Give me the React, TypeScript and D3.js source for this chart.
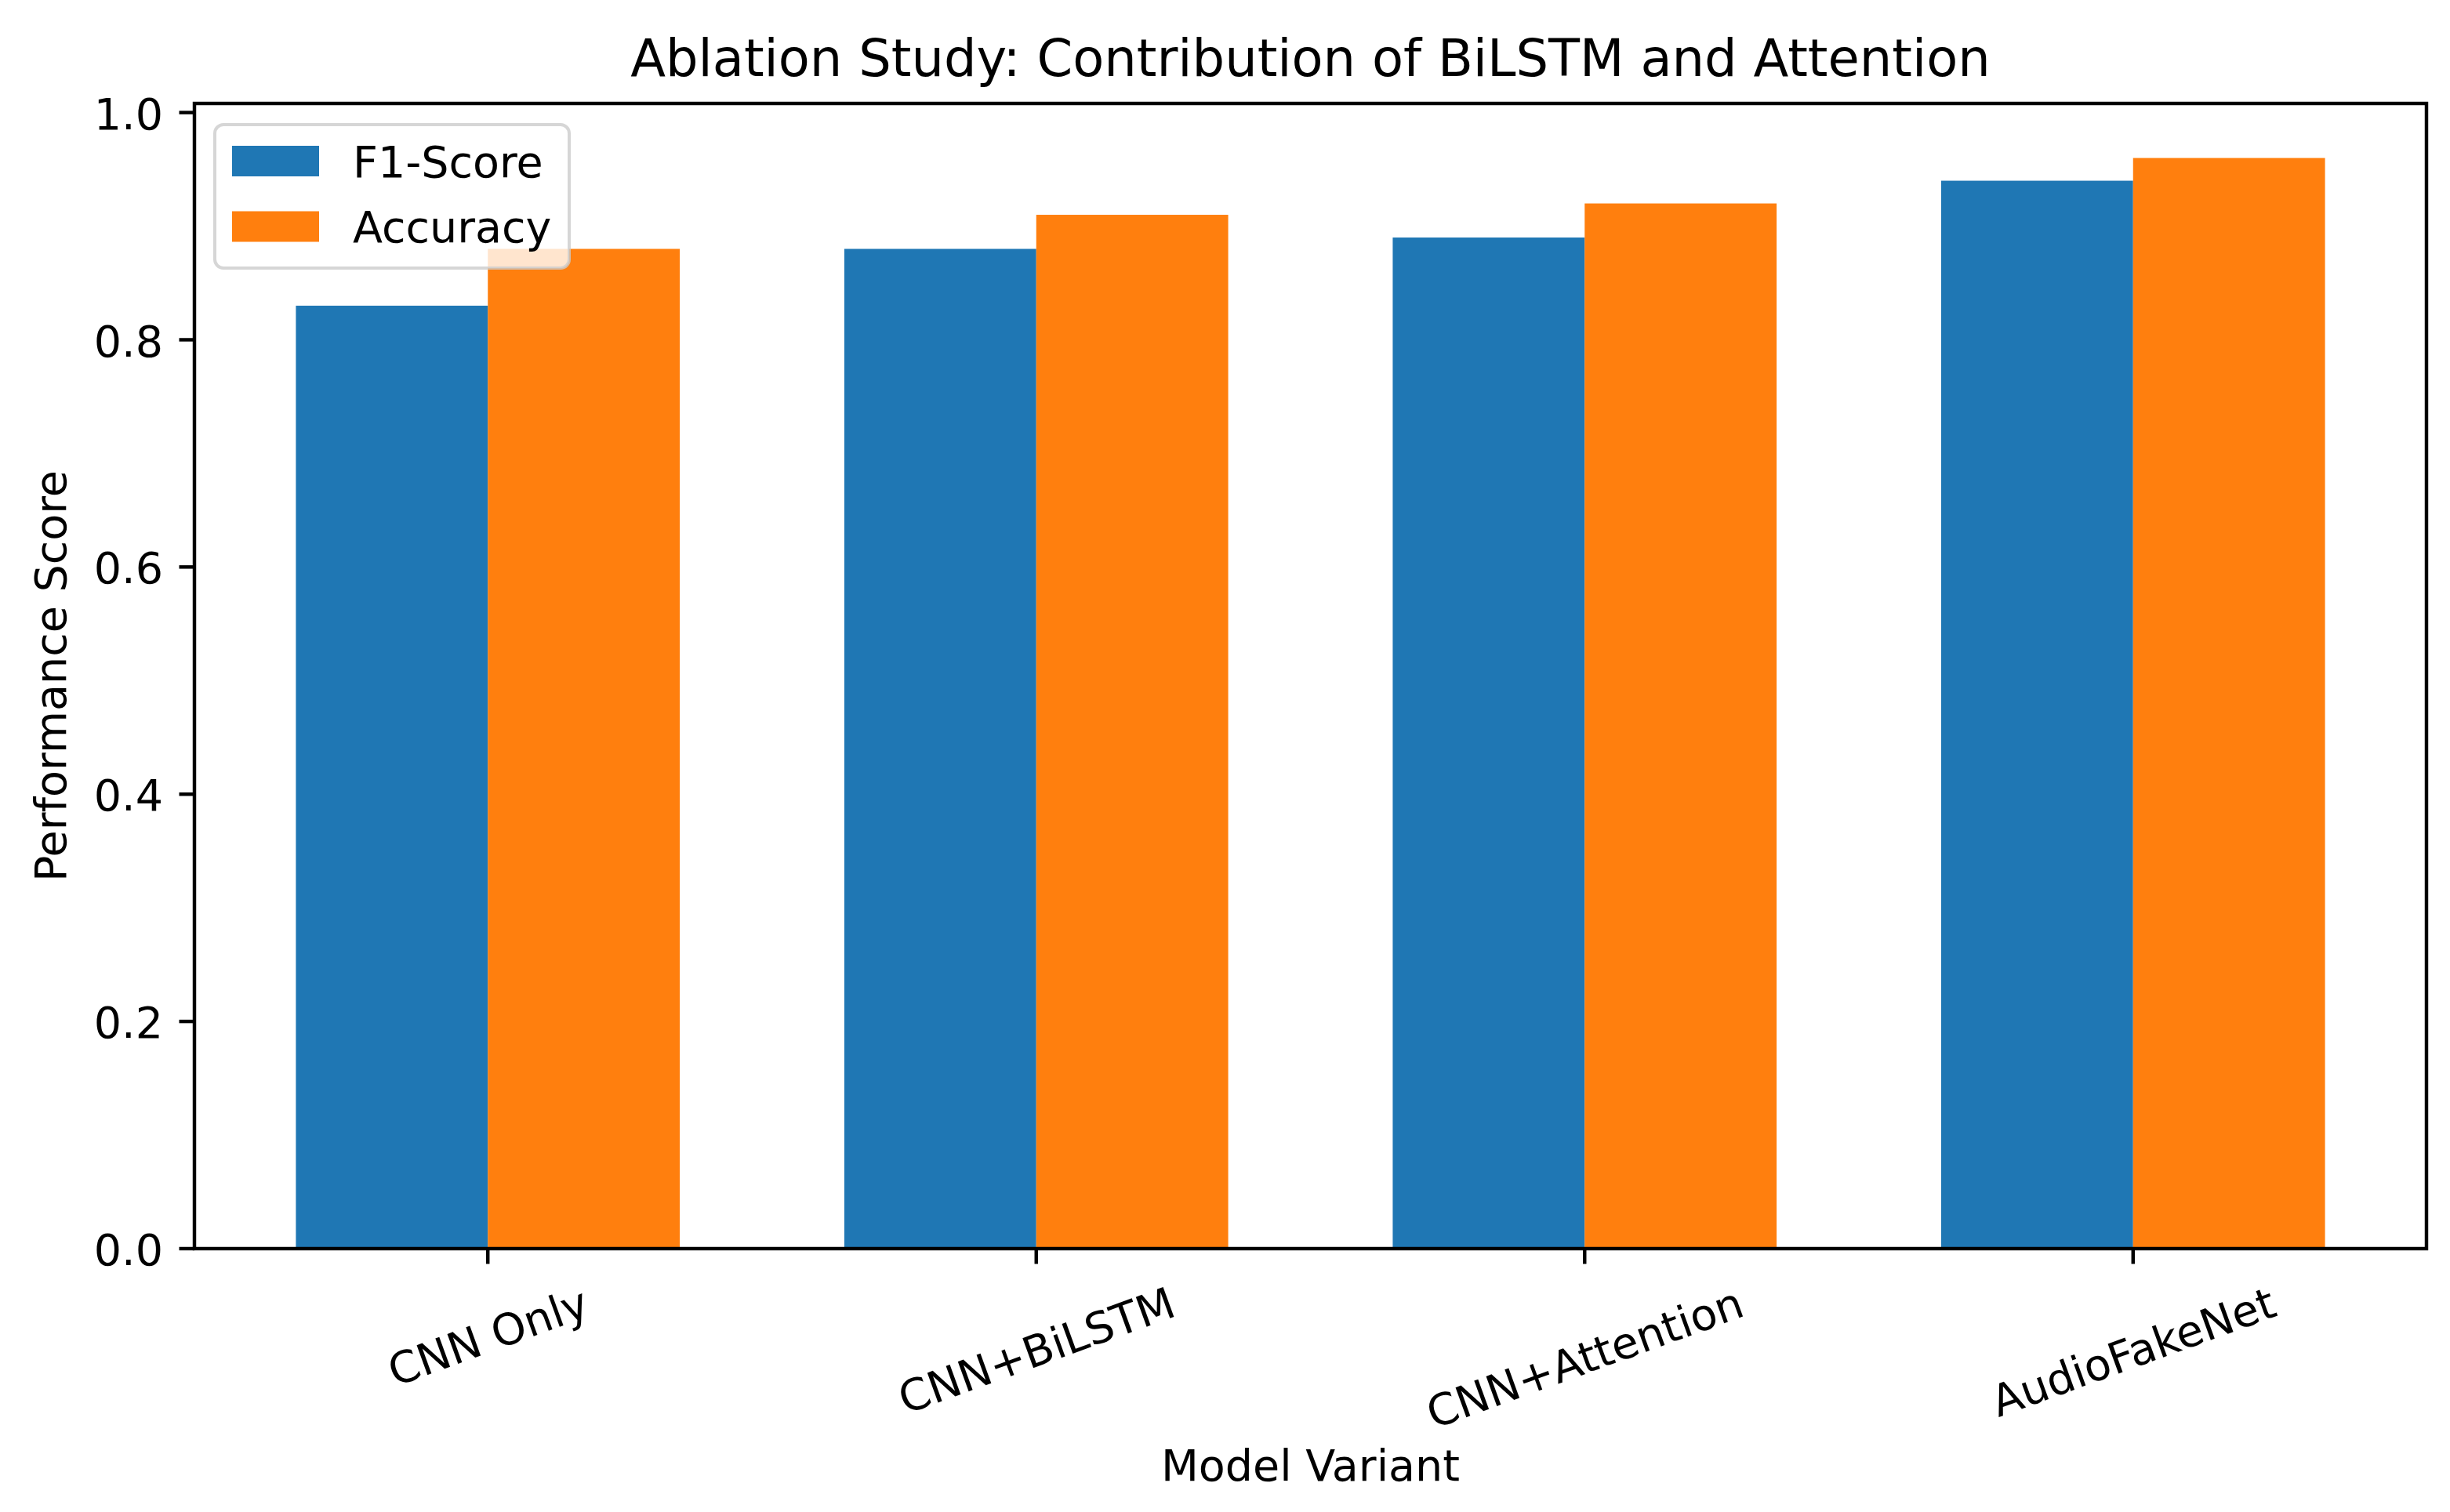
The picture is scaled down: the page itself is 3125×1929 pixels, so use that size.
import React, { useEffect, useRef } from "react";
import * as d3 from "d3";

const categories = ["CNN Only", "CNN+BiLSTM", "CNN+Attention", "AudioFakeNet"];
const f1Scores = [0.83, 0.88, 0.89, 0.94];
const accuracies = [0.88, 0.91, 0.92, 0.96];
const seriesNames = ["F1-Score", "Accuracy"];
const seriesColors = ["#1f77b4", "#ff7f0e"];
const yTicks = [0.0, 0.2, 0.4, 0.6, 0.8, 1.0];

const W = 3125;
const H = 1929;
const FONT = "'DejaVu Sans', sans-serif";

export default function App() {
  const ref = useRef<SVGSVGElement | null>(null);

  useEffect(() => {
    const svg = d3.select(ref.current);
    svg.selectAll("*").remove();

    const left = 248, right = 3095, top = 132, bottom = 1593;
    const fs = 55.5;
    const barW = 0.35;
    const n = categories.length;
    const x = d3.scaleLinear().domain([-barW - 0.185, n - 1 + barW + 0.185]).range([left, right]);
    const yMax = d3.max(accuracies.concat(f1Scores))! * 1.05;
    const y = d3.scaleLinear().domain([0, yMax]).range([bottom, top]);

    svg.append("rect").attr("x", 0).attr("y", 0).attr("width", W).attr("height", H).attr("fill", "#ffffff");

    const series = [f1Scores, accuracies];
    series.forEach((vals, si) => {
      svg.append("g")
        .selectAll("rect")
        .data(vals)
        .join("rect")
        .attr("x", (_, i) => x(i + (si === 0 ? -barW : 0)))
        .attr("width", (_, i) => x(i + barW) - x(i))
        .attr("y", (d) => y(d))
        .attr("height", (d) => y(0) - y(d))
        .attr("fill", seriesColors[si]);
    });

    const lw = 4.45;
    const tickLen = 19.5;
    // spines
    svg.append("rect")
      .attr("x", left).attr("y", top)
      .attr("width", right - left).attr("height", bottom - top)
      .attr("fill", "none").attr("stroke", "#000").attr("stroke-width", lw)
      .attr("stroke-linejoin", "miter");

    // y ticks
    const yg = svg.append("g");
    yTicks.forEach((t) => {
      yg.append("line")
        .attr("x1", left - tickLen).attr("x2", left)
        .attr("y1", y(t)).attr("y2", y(t))
        .attr("stroke", "#000").attr("stroke-width", lw);
      yg.append("text")
        .attr("x", left - tickLen - 19.5 - 1)
        .attr("y", y(t) + 0.38 * fs)
        .attr("text-anchor", "end")
        .attr("font-family", FONT).attr("font-size", fs).attr("fill", "#000")
        .text(d3.format(".1f")(t));
    });

    // x ticks
    const xg = svg.append("g");
    const rot = 20;
    const s = Math.sin((rot * Math.PI) / 180);
    const c = Math.cos((rot * Math.PI) / 180);
    categories.forEach((cat, i) => {
      xg.append("line")
        .attr("x1", x(i)).attr("x2", x(i))
        .attr("y1", bottom).attr("y2", bottom + tickLen)
        .attr("stroke", "#000").attr("stroke-width", lw);
      const g = xg.append("g");
      const t = g.append("text")
        .attr("text-anchor", "middle")
        .attr("font-family", FONT).attr("font-size", fs).attr("fill", "#000")
        .text(cat);
      const w = (t.node() as SVGTextElement).getComputedTextLength();
      const capH = 0.73 * fs;
      const hInk = w * s + capH * c;
      const cy = 1640 + hInk / 2;
      t.attr("x", 0).attr("y", capH / 2);
      g.attr("transform", `translate(${x(i)},${cy}) rotate(${-rot})`);
    });

    // axis labels
    svg.append("text")
      .attr("x", (left + right) / 2).attr("y", 1889)
      .attr("text-anchor", "middle")
      .attr("font-family", FONT).attr("font-size", fs).attr("fill", "#000")
      .text("Model Variant");
    svg.append("text")
      .attr("transform", `translate(84,${(top + bottom) / 2}) rotate(-90)`)
      .attr("text-anchor", "middle")
      .attr("font-family", FONT).attr("font-size", fs).attr("fill", "#000")
      .text("Performance Score");

    // title
    svg.append("text")
      .attr("x", (left + right) / 2).attr("y", 97)
      .attr("text-anchor", "middle")
      .attr("font-family", FONT).attr("font-size", 65.5).attr("fill", "#000")
      .text("Ablation Study: Contribution of BiLSTM and Attention");

    // legend
    const lg = svg.append("g");
    lg.append("rect")
      .attr("x", 274).attr("y", 159).attr("width", 452).attr("height", 183)
      .attr("rx", 11).attr("ry", 11)
      .attr("fill", "#ffffff").attr("fill-opacity", 0.8)
      .attr("stroke", "#cccccc").attr("stroke-opacity", 0.8).attr("stroke-width", 4);
    seriesNames.forEach((name, i) => {
      const cy = 205.5 + i * 83.5;
      lg.append("rect")
        .attr("x", 296).attr("y", cy - 19.5).attr("width", 111).attr("height", 39)
        .attr("fill", seriesColors[i]);
      lg.append("text")
        .attr("x", 450).attr("y", cy + 0.365 * fs)
        .attr("font-family", FONT).attr("font-size", fs).attr("fill", "#000")
        .text(name);
    });
  }, []);

  return (
    <svg
      ref={ref}
      width={W}
      height={H}
      viewBox={`0 0 ${W} ${H}`}
      style={{ position: "absolute", left: 0, top: 0, background: "#fff" }}
    />
  );
}
